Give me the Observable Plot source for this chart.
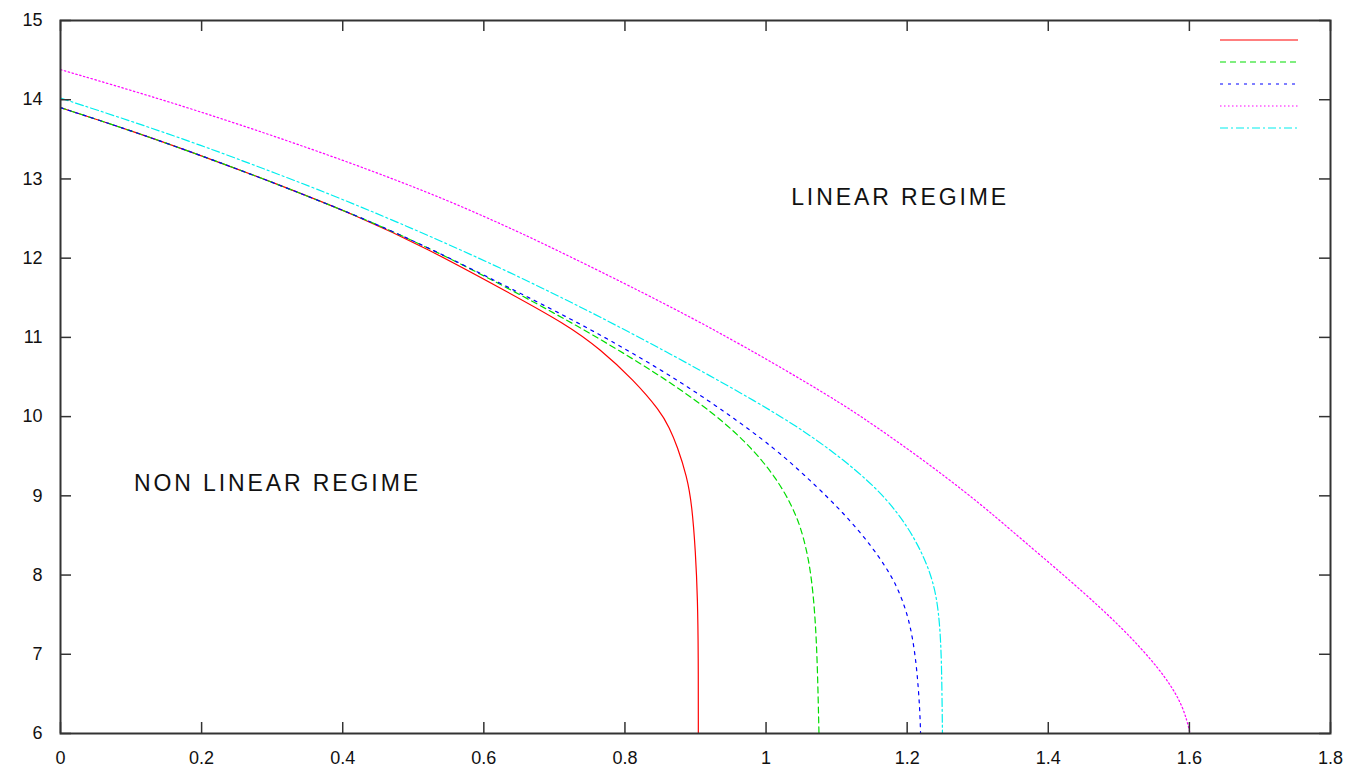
<!DOCTYPE html>
<html><head><meta charset="utf-8">
<script src="https://cdn.jsdelivr.net/npm/d3@7"></script>
<script src="https://cdn.jsdelivr.net/npm/@observablehq/plot@0.6"></script>
<style>
body{margin:0;background:#fff;}
#wrap{position:relative;width:1354px;height:767px;}
#legend{position:absolute;left:0;top:0;pointer-events:none;}
g[aria-label="text"] text{letter-spacing:2.9px;}
</style></head><body><div id="wrap"></div>
<script>
// ---- data ----
const xTicks = [0, 0.2, 0.4, 0.6, 0.8, 1, 1.2, 1.4, 1.6, 1.8];
const yTicks = [6, 7, 8, 9, 10, 11, 12, 13, 14, 15];

const series1X = [0, 0.1, 0.198, 0.3, 0.425, 0.52, 0.624, 0.718, 0.765, 0.8125, 0.85, 0.863, 0.874, 0.888, 0.895, 0.9, 0.903, 0.904, 0.904];
const series1Y = [13.90, 13.61, 13.30, 12.96, 12.52, 12.12, 11.62, 11.16, 10.85, 10.46, 10.07, 9.86, 9.63, 9.24, 8.88, 8.3, 7.7, 7.0, 6.0];

const series2X = [0, 0.1, 0.198, 0.3, 0.425, 0.52, 0.624, 0.718, 0.8125, 0.907, 0.973, 1.015, 1.035, 1.049, 1.063, 1.07, 1.073, 1.075];
const series2Y = [13.90, 13.61, 13.30, 12.96, 12.52, 12.14, 11.67, 11.22, 10.73, 10.18, 9.68, 9.22, 8.90, 8.62, 8.12, 7.45, 6.8, 6.0];

const series3X = [0, 0.1, 0.198, 0.3, 0.425, 0.52, 0.624, 0.718, 0.8125, 0.907, 1.0015, 1.05, 1.09, 1.12, 1.148, 1.17, 1.186, 1.2, 1.208, 1.214, 1.218, 1.219];
const series3Y = [13.90, 13.61, 13.30, 12.96, 12.52, 12.14, 11.68, 11.26, 10.80, 10.28, 9.68, 9.30, 8.96, 8.68, 8.38, 8.10, 7.85, 7.52, 7.2, 6.8, 6.3, 6.0];

const series4X = [0, 0.1, 0.198, 0.3, 0.425, 0.55, 0.652, 0.704, 0.907, 1.077, 1.134, 1.219, 1.3, 1.361, 1.455, 1.521, 1.568, 1.592, 1.601];
const series4Y = [14.38, 14.12, 13.85, 13.55, 13.16, 12.73, 12.32, 12.10, 11.21, 10.33, 10.01, 9.48, 8.93, 8.46, 7.75, 7.19, 6.70, 6.33, 6.0];

const series5X = [0, 0.1, 0.198, 0.3, 0.425, 0.624, 0.8125, 1.0015, 1.077, 1.134, 1.172, 1.2, 1.22, 1.233, 1.242, 1.247, 1.249, 1.25];
const series5Y = [14.02, 13.73, 13.43, 13.09, 12.66, 11.89, 11.05, 10.12, 9.68, 9.28, 8.95, 8.62, 8.30, 8.02, 7.72, 7.3, 6.8, 6.0];

const seriesColors = ["#ff0000", "#00dd00", "#0000ff", "#ff00ff", "#00eeee"];
const seriesDash = [null, "6,4", "3,5", "1.5,2.5", "8,3,2,3"];

const annotationText = ["LINEAR REGIME", "NON LINEAR REGIME"];
const annotationX = [1.19, 0.3075];
const annotationY = [12.77, 9.16];

// ---- build ----
const allX = [series1X, series2X, series3X, series4X, series5X];
const allY = [series1Y, series2Y, series3Y, series4Y, series5Y];
const seriesData = allX.map((xs, i) => xs.map((x, j) => ({x, y: allY[i][j]})));
const annotations = annotationText.map((t, i) => ({t, x: annotationX[i], y: annotationY[i]}));

const W = 1354, H = 767;
const mL = 60, mR = 24, mT = 20, mB = 34;
const pw = W - mL - mR, ph = H - mT - mB;
const tickLen = 11;
const frameColor = "#333";

const lineMarks = seriesData.map((d, i) => Plot.line(d, {
  x: "x", y: "y", stroke: seriesColors[i], strokeWidth: 1.2,
  strokeDasharray: seriesDash[i] || undefined, curve: "basis", clip: true
}));

const chart = Plot.plot({
  width: W, height: H,
  marginLeft: mL, marginRight: mR, marginTop: mT, marginBottom: mB,
  style: {fontFamily: "'Liberation Sans', Arial, sans-serif", fontSize: "18px", color: "#111", background: "#fff"},
  x: {domain: [0, 1.8]},
  y: {domain: [6, 15]},
  marks: [
    ...lineMarks,
    Plot.tickX(xTicks, {x: d => d, stroke: frameColor, strokeWidth: 1.5, insetTop: ph - tickLen}),
    Plot.tickX(xTicks, {x: d => d, stroke: frameColor, strokeWidth: 1.5, insetBottom: ph - tickLen}),
    Plot.tickY(yTicks, {y: d => d, stroke: frameColor, strokeWidth: 1.5, insetRight: pw - tickLen}),
    Plot.tickY(yTicks, {y: d => d, stroke: frameColor, strokeWidth: 1.5, insetLeft: pw - tickLen}),
    Plot.axisX({ticks: xTicks, tickSize: 0, tickPadding: 18, tickFormat: d => String(d), label: null, fontSize: 18}),
    Plot.axisY({ticks: yTicks, tickSize: 0, tickPadding: 18, tickFormat: d => String(d), label: null, fontSize: 18}),
    Plot.text(annotations, {x: "x", y: "y", text: "t", fontSize: 23, fill: "#111", textAnchor: "middle"}),
    Plot.frame({stroke: frameColor, strokeWidth: 2})
  ]
});
const wrap = document.getElementById("wrap");
wrap.appendChild(chart);

// legend (keys only, no labels as in the reference)
const leg = d3.select(wrap).append("svg").attr("id", "legend").attr("width", W).attr("height", H);
seriesColors.forEach((c, i) => {
  leg.append("line")
    .attr("x1", 1220).attr("x2", 1298)
    .attr("y1", 40 + i * 22).attr("y2", 40 + i * 22)
    .attr("stroke", c).attr("stroke-width", 1.2)
    .attr("stroke-dasharray", seriesDash[i] || null);
});
</script></body></html>
